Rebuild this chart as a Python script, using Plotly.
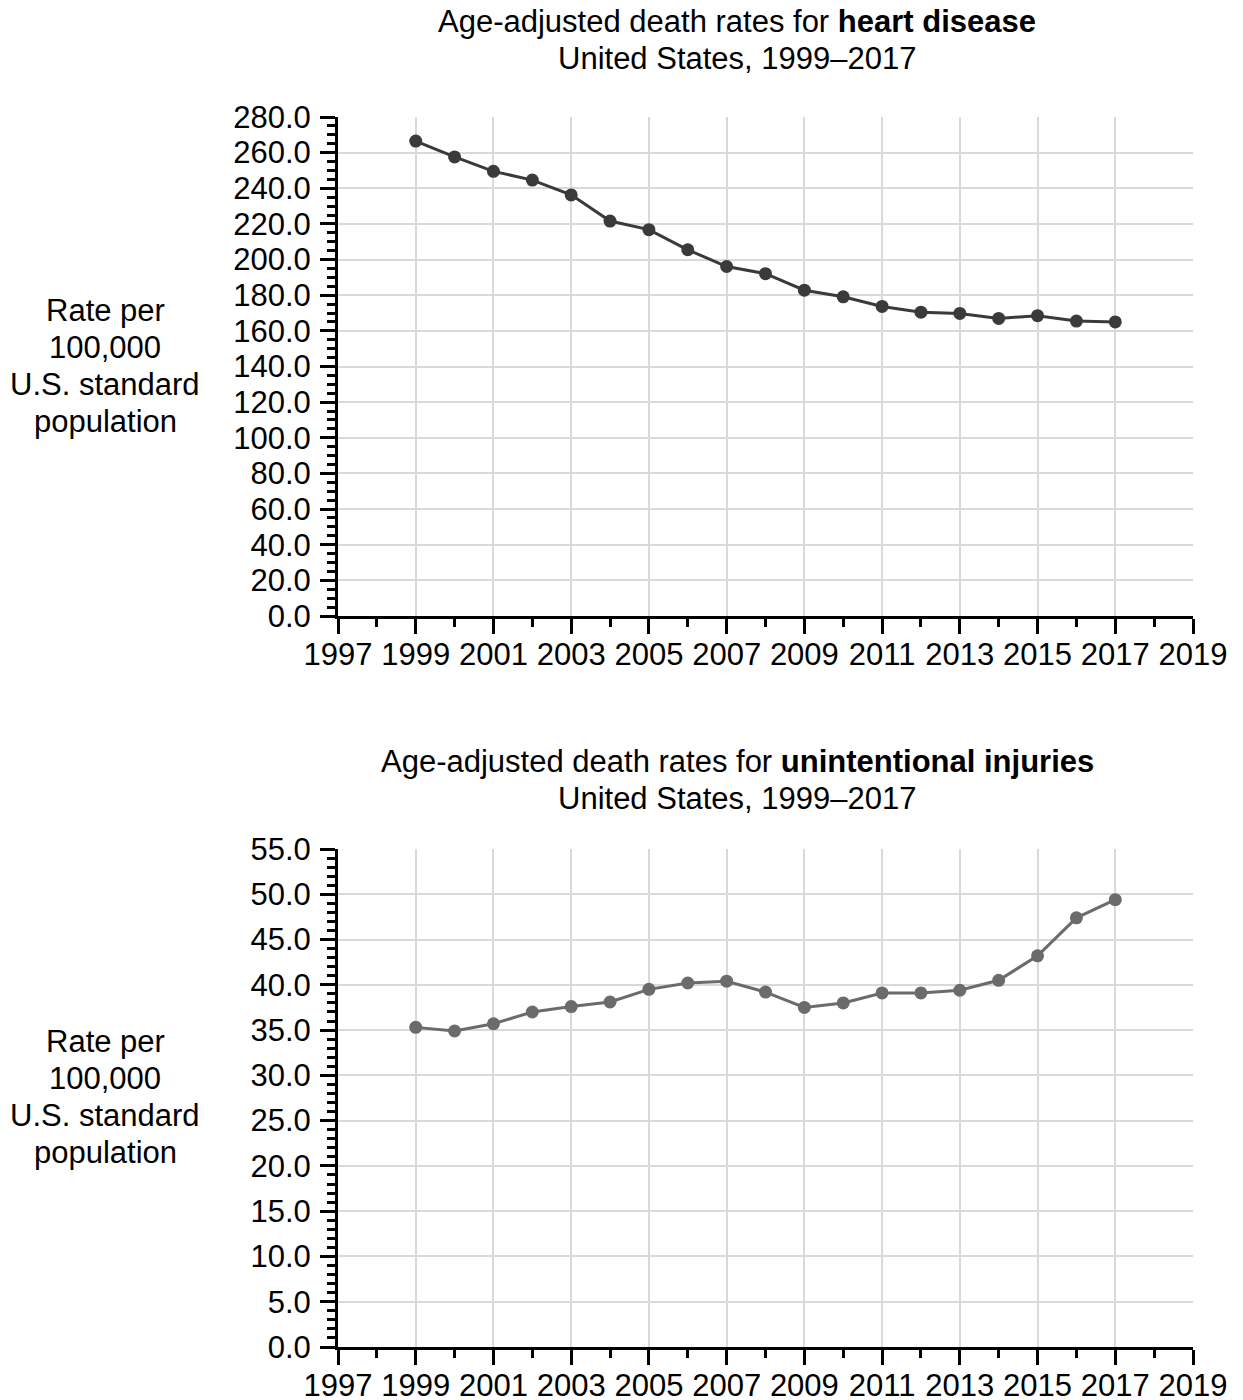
import plotly.graph_objects as go

years = list(range(1999, 2018))
heart_disease = [266.5, 257.6, 249.5, 244.6, 236.3, 221.6, 216.8, 205.5, 196.1, 192.1,
                 182.8, 179.1, 173.7, 170.5, 169.8, 167.0, 168.5, 165.5, 165.0]
unintentional = [35.3, 34.9, 35.7, 37.0, 37.6, 38.1, 39.5, 40.2, 40.4, 39.2,
                 37.5, 38.0, 39.1, 39.1, 39.4, 40.5, 43.2, 47.4, 49.4]

FONT = "Liberation Sans, Arial, sans-serif"
OFF = 8  # page body margin
W, H = 1243 - OFF, 1400 - OFF
L, R = 338 - OFF, 1193 - OFF
FS = 31

fig = go.Figure()
fig.add_trace(go.Scatter(x=years, y=heart_disease, mode="lines+markers",
                         line=dict(color="#3a3a3a", width=3),
                         marker=dict(color="#3a3a3a", size=13),
                         xaxis="x", yaxis="y", showlegend=False))
fig.add_trace(go.Scatter(x=years, y=unintentional, mode="lines+markers",
                         line=dict(color="#6b6b6b", width=3),
                         marker=dict(color="#6b6b6b", size=13),
                         xaxis="x2", yaxis="y2", showlegend=False))

def py(px):
    return 1 - (px - OFF) / H

def px_x(px):
    return (px - OFF - L) / (R - L)

xcommon = dict(range=[1997, 2019], tick0=1997, dtick=2, ticks="outside", ticklen=15,
               tickwidth=3, tickcolor="black", showline=True, linecolor="black", linewidth=3,
               showgrid=True, gridcolor="#d9d9d9", gridwidth=2, zeroline=False,
               ticklabelstandoff=-6,
               tickfont=dict(family=FONT, size=FS, color="black"), automargin=False,
               minor=dict(dtick=1, tick0=1997, ticks="outside", ticklen=8, tickwidth=3,
                          tickcolor="black", showgrid=False))
ycommon = dict(ticks="outside", ticklen=15, tickwidth=3, tickcolor="black",
               showline=True, linecolor="black", linewidth=3, showgrid=True,
               gridcolor="#d9d9d9", gridwidth=2, zeroline=False, tickformat=".1f",
               ticklabelstandoff=3,
               tickfont=dict(family=FONT, size=FS, color="black"), automargin=False)

fig.update_layout(
    width=W, height=H, template="none",
    paper_bgcolor="white", plot_bgcolor="white",
    margin=dict(l=L, r=W - R, t=0, b=0),
    xaxis=dict(domain=[0, 1], anchor="y", **xcommon),
    yaxis=dict(domain=[py(616), py(117)], anchor="x", range=[0, 280], dtick=20,
               minor=dict(dtick=5, ticks="outside", ticklen=8, tickwidth=3,
                          tickcolor="black", showgrid=False), **ycommon),
    xaxis2=dict(domain=[0, 1], anchor="y2", **xcommon),
    yaxis2=dict(domain=[py(1347), py(849)], anchor="x2", range=[0, 55], dtick=5,
                minor=dict(dtick=1, ticks="outside", ticklen=8, tickwidth=3,
                           tickcolor="black", showgrid=False), **ycommon),
)

cx = px_x(737)
lx = px_x(105)
texts = [
    ("Age-adjusted death rates for <b>heart disease</b>", cx, 21),
    ("United States, 1999–2017", cx, 58),
    ("Age-adjusted death rates for <b>unintentional injuries</b>", cx, 761),
    ("United States, 1999–2017", cx, 798),
]
ylab_lines = ["Rate per", "100,000", "U.S. standard", "population"]
for base in (310, 1041):
    for i, t in enumerate(ylab_lines):
        texts.append((t, lx, base + i * 37.3))

for t, x, y in texts:
    fig.add_annotation(text=t, xref="paper", yref="paper", x=x, y=py(y),
                       xanchor="center", yanchor="middle", showarrow=False,
                       align="center", font=dict(family=FONT, size=FS, color="black"))

fig.write_html("out.html")
